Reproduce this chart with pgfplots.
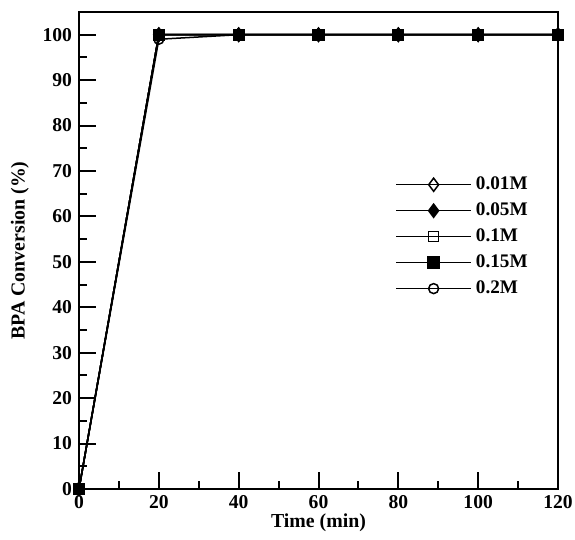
\documentclass[border=0pt]{standalone}
\usepackage{fontspec}
\setmainfont{Liberation Serif}
\usepackage{pgfplots}
\pgfplotsset{compat=1.18}
\begin{document}
\begin{tikzpicture}
\begin{axis}[
  scale only axis,
  width=239.5pt, height=238.5pt,
  xmin=0, xmax=120, ymin=0, ymax=105,
  xtick={0,20,...,120}, ytick={0,10,...,100},
  minor x tick num=1, minor y tick num=1,
  tick pos=left, tick align=inside,
  major tick length=8.5pt, minor tick length=4pt,
  every tick/.style={line width=1pt, black},
  axis line style={line width=1pt},
  clip=false,
  /pgf/number format/assume math mode=true,
  ticklabel style={font=\fontsize{9.8}{10}\selectfont\bfseries},
  xticklabel style={anchor=base, yshift=-9.6pt, inner sep=0.3pt},
  label style={font=\fontsize{9.9}{11}\selectfont\bfseries},
  xlabel={Time (min)}, ylabel={BPA Conversion (\%)},
  xlabel style={at={(axis description cs:0.5,0)}, anchor=base, yshift=-19.2pt, inner sep=0.3pt},
  ylabel style={yshift=0pt},
  legend style={draw=none, fill=none, at={(0.647,0.672)}, anchor=north west,
    font=\fontsize{9.6}{10}\selectfont\bfseries, row sep=1.1pt,
    /tikz/every even column/.append style={column sep=1pt}},
  legend cell align=left,
  /pgfplots/legend image code/.code={
    \draw[mark repeat=2,mark phase=2] plot coordinates {(0cm,0cm) (0.66cm,0cm) (1.32cm,0cm)};},
  every axis plot/.append style={line width=0.75pt, black},
]
\addplot[mark=diamond, mark size=3.3pt, mark options={fill=white, solid}] coordinates {(0,0) (20,100) (40,100) (60,100) (80,100) (100,100) (120,100)};
\addlegendentry{0.01M}
\addplot[mark=diamond*, mark size=3.3pt, mark options={fill=black}] coordinates {(0,0) (20,100) (40,100) (60,100) (80,100) (100,100) (120,100)};
\addlegendentry{0.05M}
\addplot[mark=square, mark size=2.5pt, mark options={fill=white}] coordinates {(0,0) (20,100) (40,100) (60,100) (80,100) (100,100) (120,100)};
\addlegendentry{0.1M}
\addplot[mark=square*, mark size=2.7pt, mark options={fill=black}] coordinates {(0,0) (20,100) (40,100) (60,100) (80,100) (100,100) (120,100)};
\addlegendentry{0.15M}
\addplot[mark=o, mark size=2.5pt, mark options={fill=white}] coordinates {(0,0) (20,99) (40,100) (60,100) (80,100) (100,100) (120,100)};
\addlegendentry{0.2M}
\addplot[forget plot, mark=square*, mark size=2.7pt, mark options={fill=black}] coordinates {(0,0) (20,100) (40,100) (60,100) (80,100) (100,100) (120,100)};
\end{axis}
\pgfresetboundingbox
\path ([shift={(-39.5pt,-25pt)}]current axis.south west) rectangle ([shift={(8.5pt,6pt)}]current axis.north east);
\end{tikzpicture}
\end{document}
